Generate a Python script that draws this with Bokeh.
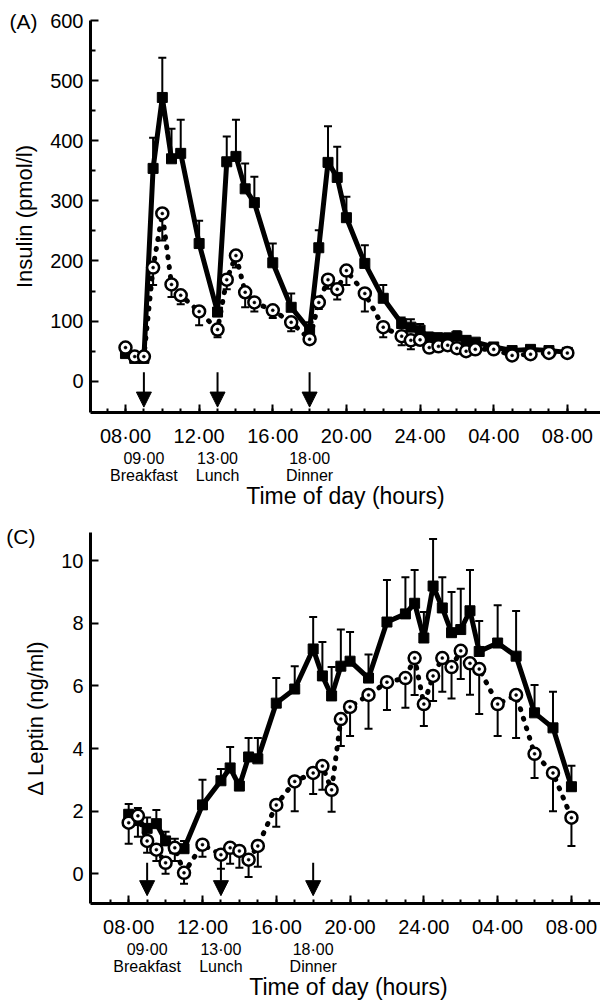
from bokeh.plotting import figure
from bokeh.models import (ColumnDataSource, FixedTicker, LinearAxis, Range1d, Whisker,
                          TeeHead, Arrow, NormalHead)
from bokeh.layouts import column
from bokeh.embed import file_html
from bokeh.resources import INLINE

FONT = "Liberation Sans"

# ---------------- data ----------------
times = [8, 8.5, 9, 9.5, 10, 10.5, 11, 12, 13, 13.5, 14, 14.5, 15, 16, 17, 18, 18.5, 19,
         19.5, 20, 21, 22, 23, 23.5, 24, 24.5, 25, 25.5, 26, 26.5, 27, 28, 29, 30, 31, 32]

insulin_solid = [46, 38, 38, 354, 472, 370, 379, 229, 115, 365, 374, 320, 297, 197, 123, 85,
                 222, 364, 339, 272, 196, 138, 96, 90, 85, 73, 72, 71, 75, 68, 65, 57, 51, 53, 51, 48]
insulin_solid_top = [52, 44, 44, 405, 538, 420, 435, 267, 132, 407, 435, 362, 340, 229, 146, 98,
                     251, 424, 390, 307, 226, 160, 106, 103, 95, 81, 80, 80, 83, 74, 70, 62, 56, 58, 56, 53]
insulin_open = [56, 41, 41, 189, 279, 161, 143, 116, 86, 169, 209, 148, 131, 118, 98, 70,
                131, 169, 153, 184, 146, 90, 75, 68, 69, 56, 58, 60, 55, 50, 53, 53, 43, 45, 47, 47]
insulin_open_bottom = [50, 36, 36, 160, 234, 140, 128, 93, 73, 153, 189, 123, 116, 105, 83, 64,
                       120, 154, 136, 160, 116, 73, 60, 53, 62, 50, 52, 54, 50, 45, 48, 48, 38, 40, 42, 42]

leptin_solid = [1.9, 1.7, 1.45, 1.6, 1.05, 0.8, 0.8, 2.2, 2.97, 3.38, 2.8, 3.73, 3.67, 5.45, 5.9,
                7.18, 6.32, 5.68, 6.63, 6.79, 6.25, 8.04, 8.3, 8.64, 7.53, 9.19, 8.49, 7.7, 7.8,
                8.4, 7.1, 7.37, 6.95, 5.14, 4.66, 2.78]
leptin_solid_top = [2.23, 2.1, 1.8, 2.04, 1.34, 1.12, 1.05, 3.0, 3.35, 4.05, 3.0, 4.34, 4.34, 6.25,
                    6.63, 8.2, 7.4, 6.6, 7.8, 7.72, 7.0, 9.38, 9.47, 9.7, 8.36, 10.69, 9.47, 9.0,
                    9.1, 9.7, 8.07, 8.58, 8.39, 6.03, 5.81, 3.45]
leptin_open = [1.63, 1.85, 1.05, 0.77, 0.35, 0.83, 0.03, 0.93, 0.61, 0.83, 0.73, 0.45, 0.89, 2.2,
               2.95, 3.22, 3.44, 2.68, 4.94, 5.33, 5.71, 6.12, 6.25, 6.89, 5.42, 6.32, 6.89, 6.6,
               7.12, 6.72, 6.54, 5.42, 5.71, 3.83, 3.22, 1.79]
leptin_open_bottom = [0.96, 1.18, 0.67, 0.41, 0.0, 0.41, -0.32, 0.54, 0.16, 0.32, 0.19, -0.1, 0.22,
                      1.5, 2.0, 2.55, 2.68, 1.98, 4.08, 4.4, 4.63, 5.23, 5.3, 5.71, 4.72, 5.52,
                      5.81, 5.6, 6.22, 5.72, 5.1, 4.4, 4.34, 3.06, 2.0, 0.89]

x_ticks = [8, 12, 16, 20, 24, 28, 32]
x_tick_labels = ["08·00", "12·00", "16·00", "20·00", "24·00", "04·00", "08·00"]
x_minor = list(range(7, 34))
meal_times = [9, 13, 18]
meal_clock = ["09·00", "13·00", "18·00"]
meal_names = ["Breakfast", "Lunch", "Dinner"]

insulin_ticks = [0, 100, 200, 300, 400, 500, 600]
insulin_minor = [50, 150, 250, 350, 450, 550]
leptin_ticks = [0, 2, 4, 6, 8, 10]


def panel(tag, ylabel, xr, yr, yticks, yminor, solid, solid_top, opn, opn_bottom,
          arrow_top, arrow_tip, frame_w, frame_h, left, top, bottom, tag_y, tag_standoff):
    p = figure(frame_width=frame_w, frame_height=frame_h,
               x_range=Range1d(*xr), y_range=Range1d(*yr),
               output_backend="svg", toolbar_location=None,
               min_border_left=left, min_border_right=0,
               min_border_top=top, min_border_bottom=bottom)
    p.outline_line_color = None
    p.grid.visible = False

    # main x axis
    xa = p.xaxis[0]
    xa.ticker = FixedTicker(ticks=x_ticks, minor_ticks=x_minor)
    xa.major_label_overrides = dict(zip(x_ticks, x_tick_labels))
    xa.axis_line_width = 3
    xa.major_tick_line_width = 2
    xa.minor_tick_line_width = 2
    xa.major_tick_in = 8
    xa.major_tick_out = 0
    xa.minor_tick_in = 4
    xa.minor_tick_out = 0
    xa.major_label_standoff = 12
    xa.major_label_text_font = FONT
    xa.major_label_text_font_size = "20px"
    xa.major_label_text_color = "black"

    # meal time axes
    ax2 = LinearAxis(ticker=FixedTicker(ticks=meal_times, minor_ticks=[]),
                     major_label_overrides=dict(zip(meal_times, meal_clock)))
    ax3 = LinearAxis(ticker=FixedTicker(ticks=meal_times, minor_ticks=[]),
                     major_label_overrides=dict(zip(meal_times, meal_names)),
                     axis_label="Time of day (hours)")
    for ax in (ax2, ax3):
        ax.axis_line_color = None
        ax.major_tick_line_color = None
        ax.minor_tick_line_color = None
        ax.major_tick_in = 0
        ax.major_tick_out = 0
        ax.minor_tick_in = 0
        ax.minor_tick_out = 0
        ax.major_label_standoff = 0
        ax.major_label_text_font = FONT
        ax.major_label_text_font_size = "16px"
        ax.major_label_text_color = "black"
    ax3.major_label_standoff = -3
    ax3.axis_label_text_font = FONT
    ax3.axis_label_text_font_size = "23px"
    ax3.axis_label_text_font_style = "normal"
    ax3.axis_label_text_color = "black"
    ax3.axis_label_standoff = -4
    p.add_layout(ax2, "below")
    p.add_layout(ax3, "below")

    ya = p.yaxis[0]
    ya.ticker = FixedTicker(ticks=yticks, minor_ticks=yminor)
    ya.axis_line_width = 3
    ya.major_tick_line_width = 2
    ya.minor_tick_line_width = 2
    ya.major_tick_in = 8
    ya.major_tick_out = 0
    ya.minor_tick_in = 5
    ya.minor_tick_out = 0
    ya.major_label_standoff = 7
    ya.major_label_text_font = FONT
    ya.major_label_text_font_size = "20px"
    ya.major_label_text_color = "black"
    ya.axis_label = ylabel
    ya.axis_label_text_font = FONT
    ya.axis_label_text_font_size = "22px"
    ya.axis_label_text_font_style = "normal"
    ya.axis_label_text_color = "black"
    ya.axis_label_standoff = 10

    # panel tag drawn as the single label of an outer, invisible axis
    tag_axis = LinearAxis(ticker=FixedTicker(ticks=[tag_y], minor_ticks=[]),
                          major_label_overrides={tag_y: tag})
    tag_axis.axis_line_color = None
    tag_axis.major_tick_line_color = None
    tag_axis.minor_tick_line_color = None
    tag_axis.major_tick_in = 0
    tag_axis.major_tick_out = 0
    tag_axis.minor_tick_in = 0
    tag_axis.minor_tick_out = 0
    tag_axis.major_label_standoff = tag_standoff
    tag_axis.major_label_text_font = FONT
    tag_axis.major_label_text_font_size = "21px"
    tag_axis.major_label_text_color = "black"
    p.add_layout(tag_axis, "left")

    src = ColumnDataSource(dict(t=times, s=solid, st=solid_top, o=opn, ob=opn_bottom))

    p.add_layout(Whisker(source=src, base="t", lower="s", upper="st", dimension="height",
                         line_width=2, line_color="black",
                         upper_head=TeeHead(size=8, line_width=2), lower_head=None))
    p.add_layout(Whisker(source=src, base="t", lower="ob", upper="o", dimension="height",
                         line_width=2, line_color="black",
                         lower_head=TeeHead(size=8, line_width=2), upper_head=None))

    p.line("t", "s", source=src, line_width=5, line_color="black")
    p.scatter("t", "s", source=src, marker="square", size=10, fill_color="black",
              line_color="black")

    p.line("t", "o", source=src, line_width=5, line_color="black", line_dash="1 9",
           line_cap="round")
    p.scatter("t", "o", source=src, marker="circle", size=12, fill_color="white",
              line_color="black", line_width=2.5)
    p.scatter("t", "o", source=src, marker="circle", size=3, fill_color="black",
              line_color="black", line_width=0.5)

    asrc = ColumnDataSource(dict(x0=meal_times, x1=meal_times,
                                 y0=[arrow_top] * 3, y1=[arrow_tip] * 3))
    p.add_layout(Arrow(source=asrc, x_start="x0", y_start="y0", x_end="x1", y_end="y1",
                       line_width=2, line_color="black",
                       end=NormalHead(size=15, fill_color="black", line_color="black")))
    return p


pA = panel("(A)", "Insulin (pmol/l)", (6.1, 33.8), (-52, 600), insulin_ticks, insulin_minor,
           insulin_solid, insulin_solid_top, insulin_open, insulin_open_bottom,
           15, -43, 510, 392, 90, 20, 110, 598, -28)

pC = panel("(C)", "Δ Leptin (ng/ml)", (5.93, 33.9), (-0.95, 10.9), leptin_ticks, [],
           leptin_solid, leptin_solid_top, leptin_open, leptin_open_bottom,
           0.35, -0.7, 516, 371, 84, 10, 96, 10.78, -15)

layout = column(pA, pC, spacing=0)
open("out.html", "w").write(file_html(layout, INLINE))
